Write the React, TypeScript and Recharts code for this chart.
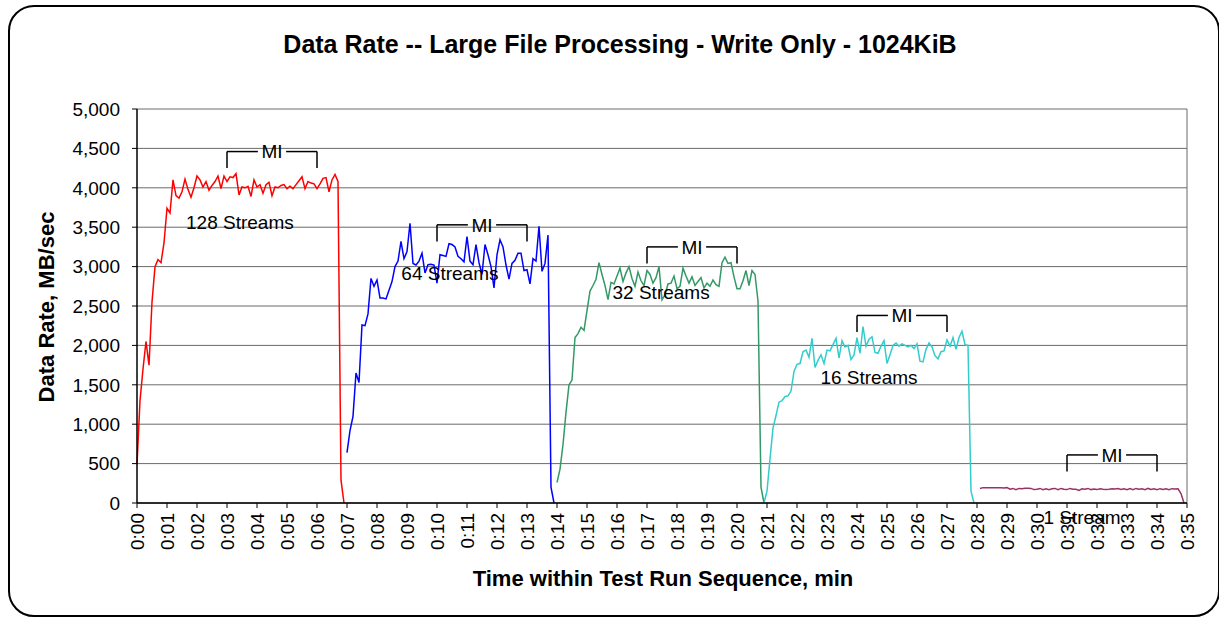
import React from 'react';
import { LineChart, Line, XAxis, YAxis, CartesianGrid, ReferenceLine, ReferenceDot } from 'recharts';

// samples are 0.1 apart on the time axis
const STEP = 0.1;

const streams128Start = 0;
const streams128 = [
    490, 1300, 1700, 2050, 1750, 2550, 3000, 3090, 3050, 3300,
    3740, 3680, 4100, 3900, 3870, 3950, 4110, 3980, 3880, 4000,
    4150, 4100, 4010, 4080, 3970, 4030, 4080, 4150, 3990, 4150,
    4080, 4140, 4130, 4180, 3910, 4010, 4000, 4020, 3890, 4100,
    4010, 4040, 3930, 4040, 4070, 3900, 4010, 4000, 4030, 4040,
    3990, 4020, 3990, 4040, 4090, 4140, 3990, 4080, 4060, 4050,
    3990, 4050, 4120, 4130, 3950, 4100, 4170, 4080, 290, 0,
];

const streams64Start = 7;
const streams64 = [
    640, 920, 1100, 1650, 1530, 2260, 2250, 2400, 2850, 2750,
    2830, 2600, 2600, 2590, 2700, 2810, 3000, 3070, 3320, 3100,
    3190, 3550, 3040, 3020, 3070, 3170, 2920, 3025, 3030, 3020,
    2790, 3150, 3140, 3130, 3290, 3280, 3250, 3130, 3100, 3060,
    3380, 3070, 3025, 3280, 3050, 2900, 3280, 3150, 3000, 2730,
    3150, 3340, 3250, 3020, 2840, 3040, 3080, 3170, 3170, 2950,
    2960, 2780, 3100, 3070, 3510, 2940, 3040, 3400, 200, 0,
];

const streams32Start = 14;
const streams32 = [
    260, 430, 740, 1150, 1500, 1560, 2100, 2150, 2230, 2190,
    2440, 2690, 2760, 2840, 3050, 2900, 2760, 2580, 2800, 2780,
    2880, 2980, 2810, 2920, 3000, 2850, 2750, 2930, 2820, 2760,
    2950, 2900, 2790, 2860, 3000, 2580, 2640, 2780, 2790, 2880,
    2720, 2750, 2980, 2880, 2790, 2870, 2760, 2810, 2860, 2730,
    2790, 2750, 2830, 2770, 2750, 3050, 3120, 3040, 3050, 2870,
    2720, 2720, 2820, 2950, 2760, 2950, 2900, 2560, 200, 0,
];

const streams16Start = 20.9;
const streams16 = [
    0,
    150, 560, 950, 1110, 1280, 1300, 1350, 1360, 1420, 1670,
    1760, 1770, 1920, 1940, 1850, 2090, 1720, 1810, 1880, 1770,
    1940, 1930, 2010, 2090, 1840, 2060, 1980, 2000, 1820, 1880,
    2100, 1900, 2240, 1990, 2080, 2110, 1910, 1900, 1990, 2060,
    1770, 1880, 2000, 2030, 1990, 2020, 2000, 1980, 2000, 1960,
    2020, 1800, 1790, 1950, 2030, 1980, 1870, 1830, 1920, 1930,
    2070, 1990, 2100, 1950, 2100, 2180, 2010, 2000, 150, 0,
];

const streams1Start = 28.1;
const streams1 = [
    185, 195, 195, 195, 195, 195, 195, 195, 190,
    195, 175, 185, 170, 185, 180, 188, 188, 185, 170,
    175, 185, 170, 180, 170, 180, 185, 170, 185, 175,
    170, 185, 175, 175, 160, 180, 175, 185, 170, 178,
    170, 180, 175, 172, 175, 180, 178, 185, 172, 180,
    168, 182, 170, 185, 175, 180, 170, 185, 172, 180,
    170, 182, 172, 180, 170, 182, 178, 180, 120, 0,
];

const timeTicks = [
    0, 1, 2, 3, 4, 5, 6, 7, 8, 9, 10, 11, 12, 13, 14, 15, 16, 17,
    18, 19, 20, 21, 22, 23, 24, 25, 26, 27, 28, 29, 30, 31, 32, 33, 34, 35,
];
const rateTicks = [0, 500, 1000, 1500, 2000, 2500, 3000, 3500, 4000, 4500, 5000];

// measurement interval brackets (from, to, height)
const miBrackets = [
    { from: 3, to: 6, level: 4460 },
    { from: 10, to: 13, level: 3530 },
    { from: 17, to: 20, level: 3250 },
    { from: 24, to: 27, level: 2380 },
    { from: 31, to: 34, level: 610 },
];

const streamLabels = [
    { text: '128 Streams', t: 3.43, v: 3560 },
    { text: '64 Streams', t: 10.43, v: 2920 },
    { text: '32 Streams', t: 17.47, v: 2680 },
    { text: '16 Streams', t: 24.4, v: 1590 },
    { text: '1 Stream', t: 31.5, v: -180 },
];

const toPoints = (start: number, values: number[]) =>
    values.map((v, i) => ({ t: Math.round((start + i * STEP) * 100) / 100, v }));

const series = [
    { name: '128 Streams', color: '#FF0000', data: toPoints(streams128Start, streams128) },
    { name: '64 Streams', color: '#0000FF', data: toPoints(streams64Start, streams64) },
    { name: '32 Streams', color: '#339966', data: toPoints(streams32Start, streams32) },
    { name: '16 Streams', color: '#33CCCC', data: toPoints(streams16Start, streams16) },
    { name: '1 Stream', color: '#993366', data: toPoints(streams1Start, streams1) },
];

const FONT = "'Liberation Sans', Arial, sans-serif";
const GAP = 0.47;   // half width of the hole left for "MI"
const DROP = 210;   // bracket end ticks

const formatTime = (v: number) => `0:${String(v).padStart(2, '0')}`;

const TimeTick = ({ x, y, payload }: any) => (
    <text
        x={x}
        y={y}
        transform={`rotate(-90, ${x}, ${y})`}
        textAnchor="end"
        dy="0.35em"
        fontSize={19}
        fill="#000"
    >
        {formatTime(payload.value)}
    </text>
);

const App: React.FC = () => {
    const bracketLines = miBrackets.flatMap((b, i) => {
        const mid = (b.from + b.to) / 2;
        const line = { stroke: '#000', strokeWidth: 1.5 };
        return [
            <ReferenceLine key={`mi-l-${i}`} {...line} segment={[{ x: b.from, y: b.level }, { x: mid - GAP, y: b.level }]} />,
            <ReferenceLine key={`mi-r-${i}`} {...line} segment={[{ x: mid + GAP, y: b.level }, { x: b.to, y: b.level }]} />,
            <ReferenceLine key={`mi-a-${i}`} {...line} segment={[{ x: b.from, y: b.level }, { x: b.from, y: b.level - DROP }]} />,
            <ReferenceLine key={`mi-b-${i}`} {...line} segment={[{ x: b.to, y: b.level }, { x: b.to, y: b.level - DROP }]} />,
            <ReferenceDot
                key={`mi-t-${i}`}
                x={mid}
                y={b.level}
                r={0}
                ifOverflow="visible"
                label={{ value: 'MI', position: 'center', fontSize: 19, fill: '#000' }}
            />,
        ];
    });

    return (
        <div style={{ position: 'absolute', left: 0, top: 0, width: 1219, height: 620, overflow: 'hidden', background: '#fff', fontFamily: FONT }}>
            <div
                style={{
                    position: 'absolute', left: 8, top: 5, width: 1212, height: 612,
                    border: '2px solid #000', borderRadius: 26, boxSizing: 'border-box',
                }}
            />
            <div
                style={{
                    position: 'absolute', left: 10, top: 29, width: 1220, height: 30, lineHeight: '30px',
                    textAlign: 'center', fontSize: 25, fontWeight: 'bold',
                }}
            >
                Data Rate -- Large File Processing - Write Only - 1024KiB
            </div>
            <div
                style={{
                    position: 'absolute', left: -103, top: 292, width: 300, height: 30, lineHeight: '30px',
                    textAlign: 'center', fontSize: 22, fontWeight: 'bold', transform: 'rotate(-90deg)',
                }}
            >
                Data Rate, MB/sec
            </div>
            <div
                style={{
                    position: 'absolute', left: 413, top: 564, width: 500, height: 30, lineHeight: '30px',
                    textAlign: 'center', fontSize: 22, fontWeight: 'bold',
                }}
            >
                Time within Test Run Sequence, min
            </div>
            <div style={{ position: 'absolute', left: 0, top: 0 }}>
                <LineChart width={1219} height={620} margin={{ top: 109, right: 32, left: 0, bottom: 0 }}>
                    <CartesianGrid vertical={false} stroke="#6b6b6b" strokeWidth={1} />
                    <XAxis
                        dataKey="t"
                        type="number"
                        domain={[0, 35]}
                        ticks={timeTicks}
                        interval={0}
                        height={117}
                        tickSize={5}
                        tickMargin={5}
                        axisLine={{ stroke: '#000', strokeWidth: 1.5 }}
                        tickLine={{ stroke: '#000' }}
                        tick={<TimeTick />}
                    />
                    <YAxis
                        type="number"
                        domain={[0, 5000]}
                        ticks={rateTicks}
                        interval={0}
                        width={137}
                        tickSize={5}
                        tickMargin={12}
                        axisLine={{ stroke: '#000', strokeWidth: 1.5 }}
                        tickLine={{ stroke: '#000' }}
                        tick={{ fill: '#000', fontSize: 19 }}
                        tickFormatter={(v: number) => v.toLocaleString('en-US')}
                    />
                    <ReferenceLine x={35} stroke="#6b6b6b" />
                    {series.map((s) => (
                        <Line
                            key={s.name}
                            data={s.data}
                            dataKey="v"
                            name={s.name}
                            type="linear"
                            stroke={s.color}
                            strokeWidth={1.5}
                            dot={false}
                            isAnimationActive={false}
                        />
                    ))}
                    {bracketLines}
                    {streamLabels.map((l) => (
                        <ReferenceDot
                            key={l.text}
                            x={l.t}
                            y={l.v}
                            r={0}
                            ifOverflow="visible"
                            label={{ value: l.text, position: 'center', fontSize: 19, fill: '#000' }}
                        />
                    ))}
                </LineChart>
            </div>
        </div>
    );
};

export default App;
